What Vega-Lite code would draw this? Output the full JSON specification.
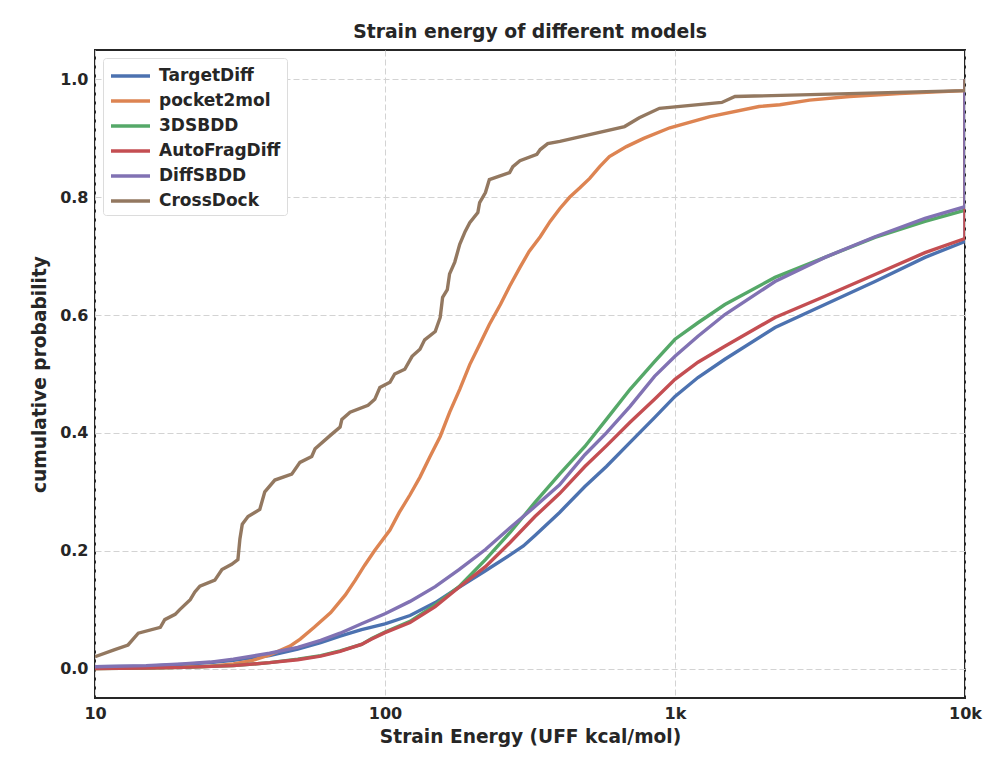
{
  "$schema": "https://vega.github.io/schema/vega-lite/v6.json",
  "autosize": "none",
  "width": 870,
  "height": 648,
  "padding": {"left": 95, "top": 50, "right": 29, "bottom": 68},
  "background": "white",
  "title": {"text": "Strain energy of different models", "font": "DejaVu Sans", "fontSize": 18.8, "fontWeight": "bold", "color": "#262626", "offset": 8},
  "config": {
    "view": {"stroke": "#262626", "strokeWidth": 2},
    "axis": {"labelFont": "DejaVu Sans", "labelFontSize": 16, "labelFontWeight": "bold", "labelColor": "#262626", "titleFont": "DejaVu Sans", "titleFontSize": 18.6, "titleFontWeight": "bold", "titleColor": "#262626", "ticks": false, "domain": false, "grid": true, "gridColor": "#d3d3d3", "gridDash": [6, 3], "gridWidth": 1},
    "legend": {"labelFont": "DejaVu Sans", "labelFontSize": 17, "labelFontWeight": "bold", "labelColor": "#262626"}
  },
  "data": {"values": [
    {"m":"TargetDiff","x":10,"y":0.003},{"m":"TargetDiff","x":15,"y":0.004},{"m":"TargetDiff","x":20,"y":0.007},{"m":"TargetDiff","x":25,"y":0.01},{"m":"TargetDiff","x":30,"y":0.014},{"m":"TargetDiff","x":40,"y":0.022},{"m":"TargetDiff","x":50,"y":0.033},{"m":"TargetDiff","x":60,"y":0.044},{"m":"TargetDiff","x":70,"y":0.055},{"m":"TargetDiff","x":83,"y":0.066},{"m":"TargetDiff","x":100,"y":0.076},{"m":"TargetDiff","x":122,"y":0.09},{"m":"TargetDiff","x":149,"y":0.112},{"m":"TargetDiff","x":180,"y":0.138},{"m":"TargetDiff","x":222,"y":0.166},{"m":"TargetDiff","x":270,"y":0.193},{"m":"TargetDiff","x":300,"y":0.208},{"m":"TargetDiff","x":329,"y":0.226},{"m":"TargetDiff","x":400,"y":0.265},{"m":"TargetDiff","x":489,"y":0.309},{"m":"TargetDiff","x":580,"y":0.343},{"m":"TargetDiff","x":700,"y":0.384},{"m":"TargetDiff","x":850,"y":0.426},{"m":"TargetDiff","x":1000,"y":0.462},{"m":"TargetDiff","x":1200,"y":0.494},{"m":"TargetDiff","x":1486,"y":0.525},{"m":"TargetDiff","x":2213,"y":0.579},{"m":"TargetDiff","x":3289,"y":0.618},{"m":"TargetDiff","x":4893,"y":0.657},{"m":"TargetDiff","x":7278,"y":0.698},{"m":"TargetDiff","x":10000,"y":0.725},{"m":"TargetDiff","x":10000,"y":1.0},

    {"m":"pocket2mol","x":10,"y":0.0},{"m":"pocket2mol","x":20,"y":0.002},{"m":"pocket2mol","x":25,"y":0.004},{"m":"pocket2mol","x":30,"y":0.008},{"m":"pocket2mol","x":35,"y":0.014},{"m":"pocket2mol","x":40,"y":0.023},{"m":"pocket2mol","x":47,"y":0.038},{"m":"pocket2mol","x":51,"y":0.05},{"m":"pocket2mol","x":57,"y":0.07},{"m":"pocket2mol","x":65,"y":0.095},{"m":"pocket2mol","x":73,"y":0.125},{"m":"pocket2mol","x":79,"y":0.15},{"m":"pocket2mol","x":85,"y":0.175},{"m":"pocket2mol","x":92,"y":0.2},{"m":"pocket2mol","x":104,"y":0.235},{"m":"pocket2mol","x":112,"y":0.265},{"m":"pocket2mol","x":122,"y":0.295},{"m":"pocket2mol","x":132,"y":0.325},{"m":"pocket2mol","x":143,"y":0.36},{"m":"pocket2mol","x":155,"y":0.394},{"m":"pocket2mol","x":167,"y":0.435},{"m":"pocket2mol","x":181,"y":0.474},{"m":"pocket2mol","x":196,"y":0.516},{"m":"pocket2mol","x":212,"y":0.55},{"m":"pocket2mol","x":229,"y":0.584},{"m":"pocket2mol","x":250,"y":0.618},{"m":"pocket2mol","x":269,"y":0.649},{"m":"pocket2mol","x":292,"y":0.681},{"m":"pocket2mol","x":314,"y":0.708},{"m":"pocket2mol","x":343,"y":0.733},{"m":"pocket2mol","x":371,"y":0.759},{"m":"pocket2mol","x":401,"y":0.781},{"m":"pocket2mol","x":433,"y":0.8},{"m":"pocket2mol","x":470,"y":0.816},{"m":"pocket2mol","x":508,"y":0.832},{"m":"pocket2mol","x":550,"y":0.852},{"m":"pocket2mol","x":594,"y":0.869},{"m":"pocket2mol","x":680,"y":0.886},{"m":"pocket2mol","x":780,"y":0.9},{"m":"pocket2mol","x":960,"y":0.918},{"m":"pocket2mol","x":1320,"y":0.937},{"m":"pocket2mol","x":1950,"y":0.954},{"m":"pocket2mol","x":2300,"y":0.957},{"m":"pocket2mol","x":2910,"y":0.965},{"m":"pocket2mol","x":4000,"y":0.971},{"m":"pocket2mol","x":5950,"y":0.976},{"m":"pocket2mol","x":10000,"y":0.981},{"m":"pocket2mol","x":10000,"y":1.0},

    {"m":"3DSBDD","x":10,"y":0.0},{"m":"3DSBDD","x":15,"y":0.001},{"m":"3DSBDD","x":20,"y":0.002},{"m":"3DSBDD","x":30,"y":0.005},{"m":"3DSBDD","x":40,"y":0.01},{"m":"3DSBDD","x":50,"y":0.016},{"m":"3DSBDD","x":60,"y":0.022},{"m":"3DSBDD","x":70,"y":0.03},{"m":"3DSBDD","x":83,"y":0.041},{"m":"3DSBDD","x":90,"y":0.051},{"m":"3DSBDD","x":100,"y":0.062},{"m":"3DSBDD","x":122,"y":0.08},{"m":"3DSBDD","x":149,"y":0.108},{"m":"3DSBDD","x":180,"y":0.139},{"m":"3DSBDD","x":222,"y":0.185},{"m":"3DSBDD","x":270,"y":0.231},{"m":"3DSBDD","x":329,"y":0.282},{"m":"3DSBDD","x":400,"y":0.33},{"m":"3DSBDD","x":489,"y":0.377},{"m":"3DSBDD","x":580,"y":0.423},{"m":"3DSBDD","x":700,"y":0.474},{"m":"3DSBDD","x":850,"y":0.521},{"m":"3DSBDD","x":1000,"y":0.559},{"m":"3DSBDD","x":1200,"y":0.587},{"m":"3DSBDD","x":1486,"y":0.618},{"m":"3DSBDD","x":2213,"y":0.664},{"m":"3DSBDD","x":3289,"y":0.698},{"m":"3DSBDD","x":4893,"y":0.732},{"m":"3DSBDD","x":7278,"y":0.759},{"m":"3DSBDD","x":10000,"y":0.778},{"m":"3DSBDD","x":10000,"y":1.0},

    {"m":"AutoFragDiff","x":10,"y":0.0},{"m":"AutoFragDiff","x":15,"y":0.001},{"m":"AutoFragDiff","x":20,"y":0.002},{"m":"AutoFragDiff","x":30,"y":0.005},{"m":"AutoFragDiff","x":40,"y":0.01},{"m":"AutoFragDiff","x":50,"y":0.015},{"m":"AutoFragDiff","x":60,"y":0.021},{"m":"AutoFragDiff","x":70,"y":0.029},{"m":"AutoFragDiff","x":83,"y":0.041},{"m":"AutoFragDiff","x":90,"y":0.05},{"m":"AutoFragDiff","x":100,"y":0.061},{"m":"AutoFragDiff","x":122,"y":0.078},{"m":"AutoFragDiff","x":149,"y":0.105},{"m":"AutoFragDiff","x":180,"y":0.138},{"m":"AutoFragDiff","x":222,"y":0.173},{"m":"AutoFragDiff","x":270,"y":0.214},{"m":"AutoFragDiff","x":329,"y":0.258},{"m":"AutoFragDiff","x":400,"y":0.297},{"m":"AutoFragDiff","x":489,"y":0.343},{"m":"AutoFragDiff","x":580,"y":0.378},{"m":"AutoFragDiff","x":700,"y":0.418},{"m":"AutoFragDiff","x":850,"y":0.457},{"m":"AutoFragDiff","x":1000,"y":0.491},{"m":"AutoFragDiff","x":1200,"y":0.52},{"m":"AutoFragDiff","x":1486,"y":0.547},{"m":"AutoFragDiff","x":2213,"y":0.596},{"m":"AutoFragDiff","x":3289,"y":0.632},{"m":"AutoFragDiff","x":4893,"y":0.669},{"m":"AutoFragDiff","x":7278,"y":0.706},{"m":"AutoFragDiff","x":10000,"y":0.73},{"m":"AutoFragDiff","x":10000,"y":1.0},

    {"m":"DiffSBDD","x":10,"y":0.003},{"m":"DiffSBDD","x":15,"y":0.005},{"m":"DiffSBDD","x":20,"y":0.008},{"m":"DiffSBDD","x":25,"y":0.011},{"m":"DiffSBDD","x":30,"y":0.016},{"m":"DiffSBDD","x":40,"y":0.026},{"m":"DiffSBDD","x":50,"y":0.036},{"m":"DiffSBDD","x":60,"y":0.048},{"m":"DiffSBDD","x":70,"y":0.06},{"m":"DiffSBDD","x":83,"y":0.076},{"m":"DiffSBDD","x":100,"y":0.093},{"m":"DiffSBDD","x":122,"y":0.114},{"m":"DiffSBDD","x":149,"y":0.139},{"m":"DiffSBDD","x":180,"y":0.168},{"m":"DiffSBDD","x":222,"y":0.202},{"m":"DiffSBDD","x":270,"y":0.239},{"m":"DiffSBDD","x":329,"y":0.275},{"m":"DiffSBDD","x":400,"y":0.312},{"m":"DiffSBDD","x":489,"y":0.363},{"m":"DiffSBDD","x":580,"y":0.4},{"m":"DiffSBDD","x":700,"y":0.445},{"m":"DiffSBDD","x":850,"y":0.496},{"m":"DiffSBDD","x":1000,"y":0.53},{"m":"DiffSBDD","x":1200,"y":0.564},{"m":"DiffSBDD","x":1486,"y":0.601},{"m":"DiffSBDD","x":2213,"y":0.657},{"m":"DiffSBDD","x":3289,"y":0.698},{"m":"DiffSBDD","x":4893,"y":0.733},{"m":"DiffSBDD","x":7278,"y":0.764},{"m":"DiffSBDD","x":10000,"y":0.784},{"m":"DiffSBDD","x":10000,"y":1.0},

    {"m":"CrossDock","x":10,"y":0.02},{"m":"CrossDock","x":11.7,"y":0.032},{"m":"CrossDock","x":13.0,"y":0.04},{"m":"CrossDock","x":14.1,"y":0.06},{"m":"CrossDock","x":16.8,"y":0.07},{"m":"CrossDock","x":17.4,"y":0.083},{"m":"CrossDock","x":18.9,"y":0.092},{"m":"CrossDock","x":19.6,"y":0.1},{"m":"CrossDock","x":21.3,"y":0.117},{"m":"CrossDock","x":22.1,"y":0.13},{"m":"CrossDock","x":23.0,"y":0.14},{"m":"CrossDock","x":25.9,"y":0.15},{"m":"CrossDock","x":27.4,"y":0.168},{"m":"CrossDock","x":29.6,"y":0.177},{"m":"CrossDock","x":31.1,"y":0.185},{"m":"CrossDock","x":31.6,"y":0.22},{"m":"CrossDock","x":32.2,"y":0.245},{"m":"CrossDock","x":33.7,"y":0.258},{"m":"CrossDock","x":37.0,"y":0.27},{"m":"CrossDock","x":38.5,"y":0.3},{"m":"CrossDock","x":41.7,"y":0.32},{"m":"CrossDock","x":47.7,"y":0.33},{"m":"CrossDock","x":50.9,"y":0.35},{"m":"CrossDock","x":55.9,"y":0.36},{"m":"CrossDock","x":57.4,"y":0.373},{"m":"CrossDock","x":64.5,"y":0.395},{"m":"CrossDock","x":70,"y":0.41},{"m":"CrossDock","x":71,"y":0.423},{"m":"CrossDock","x":75.8,"y":0.435},{"m":"CrossDock","x":87.4,"y":0.447},{"m":"CrossDock","x":92.2,"y":0.457},{"m":"CrossDock","x":96,"y":0.477},{"m":"CrossDock","x":104,"y":0.486},{"m":"CrossDock","x":108,"y":0.5},{"m":"CrossDock","x":117,"y":0.508},{"m":"CrossDock","x":124,"y":0.53},{"m":"CrossDock","x":132,"y":0.542},{"m":"CrossDock","x":137,"y":0.558},{"m":"CrossDock","x":149,"y":0.572},{"m":"CrossDock","x":155,"y":0.596},{"m":"CrossDock","x":158,"y":0.63},{"m":"CrossDock","x":164,"y":0.643},{"m":"CrossDock","x":167,"y":0.67},{"m":"CrossDock","x":174,"y":0.69},{"m":"CrossDock","x":181,"y":0.72},{"m":"CrossDock","x":189,"y":0.742},{"m":"CrossDock","x":196,"y":0.757},{"m":"CrossDock","x":209,"y":0.774},{"m":"CrossDock","x":212,"y":0.791},{"m":"CrossDock","x":222,"y":0.808},{"m":"CrossDock","x":229,"y":0.83},{"m":"CrossDock","x":269,"y":0.842},{"m":"CrossDock","x":276,"y":0.852},{"m":"CrossDock","x":292,"y":0.862},{"m":"CrossDock","x":334,"y":0.873},{"m":"CrossDock","x":343,"y":0.881},{"m":"CrossDock","x":364,"y":0.891},{"m":"CrossDock","x":401,"y":0.895},{"m":"CrossDock","x":670,"y":0.92},{"m":"CrossDock","x":753,"y":0.935},{"m":"CrossDock","x":884,"y":0.951},{"m":"CrossDock","x":1450,"y":0.961},{"m":"CrossDock","x":1610,"y":0.971},{"m":"CrossDock","x":10000,"y":0.981},{"m":"CrossDock","x":10000,"y":1.0}
  ]},
  "mark": {"type": "line", "strokeWidth": 3.4, "clip": true},
  "encoding": {
    "x": {"field": "x", "type": "quantitative", "scale": {"type": "log", "domain": [10, 10000], "nice": false},
      "axis": {"values": [10, 100, 1000, 10000], "title": "Strain Energy (UFF kcal/mol)", "labelFlush": false, "labelPadding": 7, "titlePadding": 6,
        "labelExpr": "datum.value >= 1000 ? format(datum.value/1000, 'd') + 'k' : format(datum.value, 'd')"}},
    "y": {"field": "y", "type": "quantitative", "scale": {"domain": [-0.05, 1.05], "nice": false, "zero": false},
      "axis": {"values": [0, 0.2, 0.4, 0.6, 0.8, 1.0], "format": ".1f", "title": "cumulative probability", "labelPadding": 7, "titlePadding": 10}},
    "color": {"field": "m", "type": "nominal",
      "scale": {"domain": ["TargetDiff", "pocket2mol", "3DSBDD", "AutoFragDiff", "DiffSBDD", "CrossDock"], "range": ["#4C72B0", "#DD8452", "#55A868", "#C44E52", "#8172B3", "#937860"]},
      "legend": {"title": null, "orient": "top-left", "offset": 8, "symbolType": "M-1,0H2.9", "symbolSize": 400, "symbolStrokeWidth": 3.5, "labelOffset": 26, "rowPadding": 5, "padding": 6, "fillColor": "white", "strokeColor": "#dcdcdc", "cornerRadius": 3}},
    "order": {"value": null}
  }
}
